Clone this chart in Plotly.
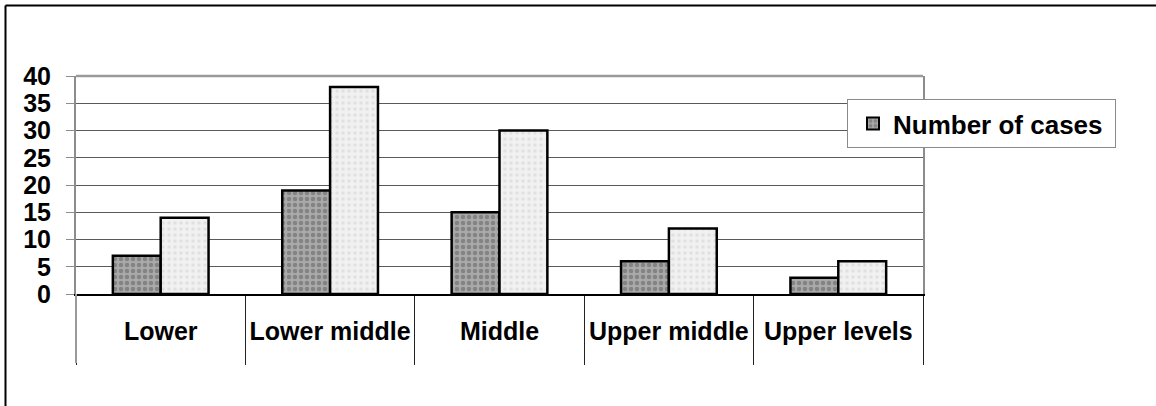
import plotly.graph_objects as go

# Income groups and the two series of counts
categories = ["Lower", "Lower middle", "Middle", "Upper middle", "Upper levels"]
cases = [7, 19, 15, 6, 3]
second_series = [14, 38, 30, 12, 6]
y_ticks = [0, 5, 10, 15, 20, 25, 30, 35, 40]

FONT = "Liberation Sans, Arial, sans-serif"
W, H = 1156, 406
ML, MR, MT, MB = 76, 233, 76, 112
PW, PH = W - ML - MR, H - MT - MB


def px_x(px):
    return (px - ML) / PW


def px_y(py):
    return (H - MB - py) / PH


fig = go.Figure()
fig.add_trace(go.Bar(
    x=categories, y=cases, name="Number of cases",
    marker=dict(
        color="#a4a4a4",
        line=dict(color="black", width=2.5),
        pattern=dict(shape=".", fgcolor="#5e5e5e", bgcolor="#a9a9a9",
                     size=6, solidity=0.45),
    ),
    showlegend=True,
))
fig.add_trace(go.Bar(
    x=categories, y=second_series, name="",
    marker=dict(
        color="#eeeeee",
        line=dict(color="black", width=2.5),
        pattern=dict(shape=".", fgcolor="#d2d2d2", bgcolor="#f1f1f1",
                     size=6, solidity=0.3),
    ),
    showlegend=False,
))

fig.update_layout(
    width=W, height=H,
    margin=dict(l=ML, r=MR, t=MT, b=MB, pad=0, autoexpand=False),
    paper_bgcolor="white", plot_bgcolor="white",
    barmode="group", bargap=0.435, bargroupgap=0,
    font=dict(family=FONT, size=25, color="black"),
    legend=dict(
        orientation="h",
        x=px_x(847), y=px_y(99), xanchor="left", yanchor="top",
        bordercolor="#8a8a8a", borderwidth=1, bgcolor="white",
        font=dict(family=FONT, size=26, color="black", weight="bold"),
        itemsizing="constant", entrywidth=217, indentation=5,
    ),
    xaxis=dict(
        type="category", automargin=False,
        showgrid=False,
        showline=True, linecolor="black", linewidth=1.5,
        ticks="outside", tickson="boundaries", ticklen=69,
        tickcolor="#222222", tickwidth=1, tickangle=0,
        tickfont=dict(family=FONT, size=25, color="black", weight="bold"),
        ticklabelstandoff=14,
        range=[-0.5, len(categories) - 0.5],
    ),
    yaxis=dict(
        range=[0, 40], tickvals=y_ticks, automargin=False,
        showgrid=True, gridcolor="#5a5a5a", gridwidth=1,
        showline=True, linecolor="#8c8c8c", linewidth=2, mirror=True,
        ticks="outside", ticklen=8, tickcolor="#8c8c8c", tickwidth=1,
        tickfont=dict(family=FONT, size=25, color="black", weight="bold"),
        ticklabelstandoff=10,
        zeroline=False,
    ),
    shapes=[
        # heavier frame line along the top of the plot area
        dict(type="line", xref="paper", yref="paper", x0=0, x1=1, y0=1, y1=1,
             line=dict(color="#9a9a9a", width=2.5), layer="above"),
        # lighter separator below the left end of the category axis
        dict(type="line", xref="paper", yref="paper", x0=0, x1=0,
             y0=0, y1=px_y(363), line=dict(color="#9a9a9a", width=2),
             layer="above"),
        # outer chart frame (left and top edges)
        dict(type="line", xref="paper", yref="paper",
             x0=px_x(5.5), x1=px_x(5.5), y0=px_y(5.5), y1=px_y(410),
             line=dict(color="black", width=2)),
        dict(type="line", xref="paper", yref="paper",
             x0=px_x(5.5), x1=px_x(1160), y0=px_y(5.5), y1=px_y(5.5),
             line=dict(color="black", width=2)),
    ],
)

fig.write_html("out.html")
